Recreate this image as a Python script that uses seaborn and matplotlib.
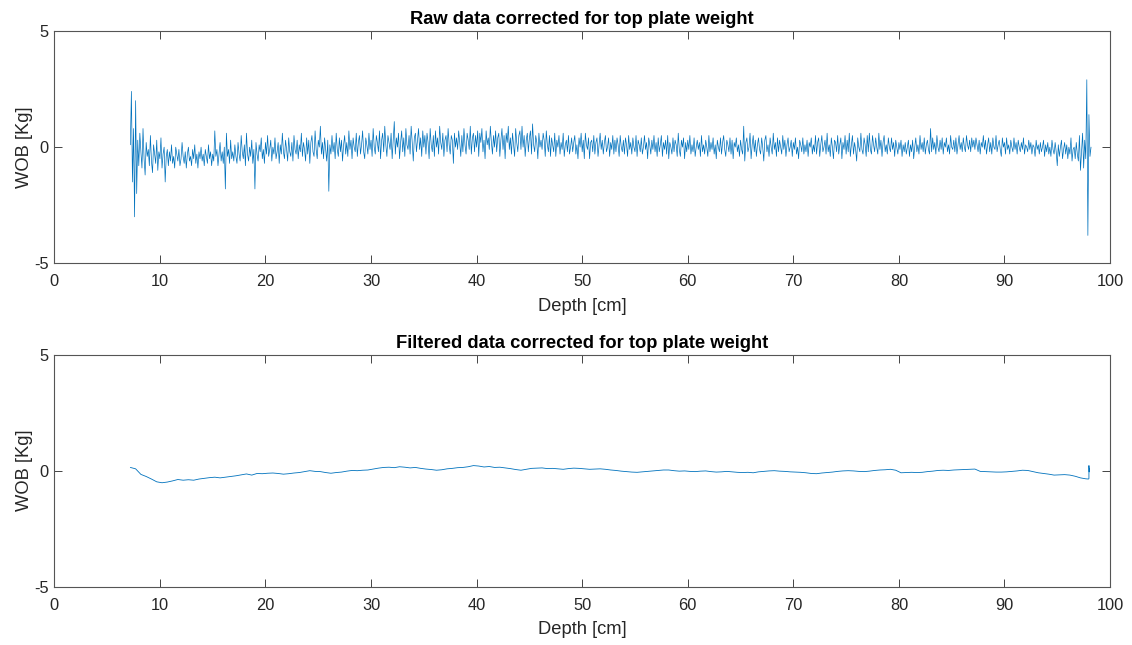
import numpy as np
import matplotlib
matplotlib.use("Agg")
import matplotlib.pyplot as plt
import seaborn as sns

# raw WOB readings [Kg], one every 0.1 cm from 7.2 cm to 98.2 cm
raw_07_17 = [0.1, 2.4, -1.5, 0.8, -3.0, 2.0, -2.0, 0.3, -0.8, 0.6,
             -0.2, -0.9, 0.8, -0.5, -1.2, 0.2, -0.4, -0.1, -0.8, 0.5,
             -0.6, -1.1, 0.1, -0.3, -0.7, 0.3, -1.0, -0.2, -0.5, 0.4,
             -0.9, -0.3, 0.0, -1.5, -0.4, -0.1, -0.8, -0.2, -0.6, 0.1,
             -0.7, -0.4, -0.9, 0.0, -0.3, -0.6, -0.1, -0.8, -0.5, 0.2,
             -0.4, -0.7, -0.2, -0.9, -0.3, 0.0, -0.6, -0.4, -0.8, -0.1,
             -0.5, 0.1, -0.7, -0.3, -0.9, -0.2, -0.5, 0.0, -0.6, -0.3,
             -0.8, -0.1, -0.4, -0.7, 0.1, -0.5, -0.2, -0.8, -0.3, -0.6,
             0.7, -0.4, -0.1, -0.8, -0.3, 0.2, -0.6, -0.2, -0.7, 0.0,
             -1.8, 0.6, -0.4, -0.1, -0.7, 0.3, -0.5, -0.2, -0.6, 0.1]
raw_17_27 = [-0.4, -0.7, 0.2, -0.3, -0.6, 0.5, -0.2, -0.5, 0.1, -0.8,
             0.6, -0.3, -0.6, 0.0, -0.4, 0.3, -0.7, -0.1, -1.8, 0.2,
             -0.3, -0.6, 0.1, -0.2, 0.4, -0.5, -0.1, -0.7, 0.2, -0.3,
             0.5, -0.4, -0.1, 0.3, -0.6, 0.0, -0.3, 0.4, -0.5, -0.2,
             0.2, -0.7, 0.1, -0.3, 0.6, -0.2, -0.5, 0.3, -0.1, -0.6,
             0.4, -0.2, -0.4, 0.2, -0.6, 0.5, -0.1, -0.3, 0.3, -0.5,
             0.1, -0.2, 0.6, -0.4, 0.2, -0.1, -0.6, 0.4, -0.3, 0.3,
             -0.7, 0.2, 0.5, -0.2, -0.4, 0.7, -0.1, -0.5, 0.3, 0.0,
             0.9, -0.3, 0.2, -0.5, 0.4, -0.1, -0.6, 0.3, -1.9, 0.1,
             -0.3, 0.5, -0.2, 0.2, -0.5, 0.6, -0.1, -0.4, 0.4, -0.2]
raw_27_37 = [0.3, -0.6, 0.1, 0.5, -0.3, 0.2, -0.4, 0.7, -0.1, 0.3,
             -0.5, 0.4, 0.0, -0.2, 0.6, -0.4, 0.2, 0.5, -0.3, 0.1,
             0.7, -0.2, -0.5, 0.4, 0.1, -0.3, 0.6, -0.1, 0.3, -0.4,
             0.8, 0.0, -0.3, 0.5, 0.2, -0.2, 0.7, -0.5, 0.3, 0.6,
             -0.2, 0.9, 0.1, -0.4, 0.5, 0.2, -0.1, 0.6, -0.5, 0.3,
             1.1, -0.3, 0.4, 0.0, 0.6, -0.5, 0.2, 0.7, -0.2, 0.4,
             -0.4, 0.8, 0.1, -0.1, 0.5, -0.3, 0.9, 0.2, -0.6, 0.4,
             0.6, -0.2, 0.3, 0.8, -0.1, 0.4, -0.4, 0.7, 0.0, 0.5,
             -0.3, 0.6, 0.2, -0.5, 0.8, 0.1, -0.2, 0.5, -0.4, 0.7,
             0.0, 0.4, -0.3, 0.9, 0.2, -0.1, 0.6, -0.4, 0.3, 0.5]
raw_37_47 = [-0.2, 0.8, 0.1, -0.3, 0.5, 0.3, -0.7, 0.6, 0.0, 0.4,
             -0.1, 0.7, 0.2, -0.4, 0.5, -0.2, 0.8, 0.1, -0.3, 0.6,
             0.3, -0.1, 0.9, -0.3, 0.4, 0.6, -0.2, 0.5, 0.0, 0.7,
             -0.4, 0.6, 0.2, 0.8, -0.2, 0.3, -0.5, 0.7, 0.1, 0.4,
             -0.1, 0.9, 0.2, -0.3, 0.5, 0.0, 0.7, -0.2, 0.4, 0.6,
             -0.4, 0.3, 0.8, -0.1, 0.5, -0.5, 0.6, 0.2, 0.9, -0.1,
             0.4, -0.3, 0.6, 0.1, -0.4, 0.8, 0.2, -0.2, 0.5, 0.7,
             -0.1, 0.9, 0.0, 0.5, -0.4, 0.3, 0.6, -0.2, 0.4, 0.7,
             -0.3, 1.0, 0.1, -0.2, 0.5, 0.2, -0.5, 0.6, 0.0, 0.3,
             -0.1, 0.6, 0.3, -0.4, 0.7, 0.1, -0.2, 0.5, -0.4, 0.4]
raw_47_57 = [0.1, -0.2, 0.6, -0.4, 0.3, 0.0, 0.5, -0.3, 0.2, -0.1,
             0.6, -0.4, 0.1, 0.3, -0.2, 0.5, -0.3, 0.0, 0.4, -0.2,
             0.2, 0.5, -0.3, 0.1, -0.5, 0.4, 0.0, 0.6, -0.2, 0.3,
             -0.5, 0.6, 0.1, -0.1, 0.4, -0.5, 0.2, 0.3, -0.2, 0.5,
             -0.3, 0.2, 0.4, -0.4, 0.1, 0.6, -0.1, 0.3, -0.3, 0.2,
             0.5, -0.2, 0.0, 0.4, -0.4, 0.2, -0.1, 0.5, -0.3, 0.3,
             -0.2, 0.4, 0.1, -0.4, 0.5, 0.0, -0.2, 0.3, -0.3, 0.4,
             0.1, -0.4, 0.5, -0.1, 0.2, -0.3, 0.4, 0.0, -0.2, 0.5,
             -0.4, 0.3, 0.1, -0.2, 0.4, -0.3, 0.0, 0.5, -0.1, 0.2,
             -0.5, 0.4, 0.1, -0.3, 0.3, -0.1, 0.5, -0.2, 0.2, -0.4]
raw_57_67 = [0.4, -0.2, 0.1, 0.5, -0.4, 0.2, -0.1, 0.3, -0.3, 0.5,
             -0.5, 0.2, 0.0, -0.3, 0.4, -0.2, 0.3, 0.1, -0.4, 0.6,
             -0.1, -0.4, 0.3, 0.0, 0.4, -0.5, 0.2, -0.2, 0.3, -0.1,
             0.5, -0.3, 0.1, -0.2, 0.4, -0.4, 0.0, 0.3, -0.1, 0.2,
             -0.4, 0.5, -0.2, 0.1, -0.3, 0.3, 0.0, -0.4, 0.5, -0.2,
             0.2, -0.1, 0.4, -0.3, 0.1, -0.5, 0.3, 0.0, -0.2, 0.4,
             -0.3, 0.2, 0.5, -0.1, -0.4, 0.3, 0.1, -0.2, 0.4, -0.3,
             0.3, -0.5, 0.2, 0.0, 0.4, -0.2, 0.1, -0.4, 0.3, -0.1,
             -0.3, 0.9, -0.6, 0.2, 0.4, -0.2, 0.0, 0.6, -0.5, 0.1,
             0.5, -0.2, 0.3, -0.4, 0.1, 0.4, -0.1, -0.3, 0.4, 0.0]
raw_67_77 = [-0.6, 0.3, 0.5, -0.2, 0.1, -0.4, 0.4, 0.0, -0.3, 0.6,
             -0.1, 0.2, -0.4, 0.4, -0.2, 0.3, 0.0, -0.3, 0.5, -0.1,
             0.3, -0.4, 0.1, 0.4, -0.2, 0.0, 0.3, -0.4, 0.2, -0.1,
             0.4, -0.3, 0.0, -0.5, 0.3, 0.1, -0.2, 0.4, -0.3, 0.1,
             -0.2, 0.3, -0.4, 0.2, 0.0, 0.4, -0.3, 0.1, -0.2, 0.5,
             -0.3, 0.2, 0.4, -0.4, 0.1, 0.5, -0.2, 0.0, 0.3, -0.3,
             0.6, -0.2, 0.1, -0.4, 0.4, 0.0, -0.5, 0.3, 0.2, -0.2,
             0.5, -0.3, 0.1, 0.4, -0.5, 0.2, -0.1, 0.5, -0.3, 0.3,
             -0.2, 0.6, -0.4, 0.1, 0.5, -0.3, 0.2, -0.1, -0.6, 0.4,
             0.0, -0.2, 0.6, -0.1, -0.3, 0.4, 0.1, -0.4, 0.5, -0.2]
raw_77_87 = [0.6, -0.1, -0.3, 0.5, 0.1, -0.2, 0.4, 0.0, -0.3, 0.6,
             -0.1, 0.3, -0.4, 0.2, 0.5, -0.2, 0.1, -0.3, 0.4, 0.0,
             -0.2, 0.4, -0.1, 0.2, -0.4, 0.3, 0.0, -0.3, 0.2, -0.1,
             0.3, -0.4, 0.1, -0.2, 0.2, -0.3, 0.0, 0.3, -0.4, 0.1,
             -0.2, 0.3, -0.5, 0.0, 0.4, -0.2, 0.1, -0.3, 0.5, -0.1,
             0.2, -0.2, 0.4, -0.3, 0.1, 0.3, -0.1, -0.3, 0.8, -0.2,
             0.4, -0.1, 0.2, -0.3, 0.5, 0.0, -0.2, 0.3, -0.1, 0.4,
             -0.3, 0.2, 0.0, 0.4, -0.2, 0.1, -0.3, 0.5, 0.0, -0.1,
             0.3, -0.2, 0.4, -0.3, 0.1, 0.5, -0.1, 0.2, -0.2, 0.4,
             0.0, -0.2, 0.5, 0.1, -0.1, 0.3, -0.2, 0.4, 0.0, 0.3]
raw_87_98 = [-0.1, 0.4, 0.1, -0.2, 0.3, -0.3, 0.2, 0.0, 0.5, -0.1,
             0.3, -0.3, 0.1, 0.4, -0.2, 0.2, -0.3, 0.4, 0.0, -0.1,
             0.5, -0.2, 0.1, 0.3, -0.1, -0.4, 0.4, 0.0, 0.2, -0.3,
             0.4, -0.1, 0.1, -0.3, 0.3, 0.0, -0.2, 0.4, -0.1, 0.2,
             -0.3, 0.3, 0.0, -0.2, 0.2, -0.1, 0.4, -0.3, 0.1, 0.0,
             -0.2, 0.3, -0.1, 0.2, -0.3, 0.1, 0.0, -0.4, 0.3, -0.1,
             0.1, -0.3, 0.2, -0.2, 0.0, 0.3, -0.4, 0.1, -0.2, 0.2,
             -0.3, 0.0, -0.4, 0.3, -0.1, -0.3, 0.2, -0.2, -0.8, 0.1,
             -0.4, 0.0, 0.3, -0.5, -0.1, 0.2, -0.3, 0.1, -0.5, 0.0,
             -0.3, 0.4, -0.6, -0.1, 0.0, -0.5, 0.2, -0.3, -0.6, 0.5,
             -1.0, -0.2, 0.6, -0.9, 0.3, -0.5, 2.9, -3.8, 1.4, -0.4, 0.0]

# filtered WOB [Kg], one value every 0.5 cm from 7.2 cm
filt_wob = [0.14, 0.08, -0.16, -0.25, -0.36, -0.48, -0.52, -0.49, -0.44, -0.38,
            -0.41, -0.39, -0.41, -0.36, -0.33, -0.30, -0.28, -0.31, -0.28, -0.25,
            -0.22, -0.18, -0.14, -0.19, -0.12, -0.13, -0.11, -0.10, -0.12, -0.15,
            -0.13, -0.10, -0.08, -0.04, 0.00, -0.03, -0.04, -0.08, -0.11, -0.08,
            -0.06, -0.02, 0.01, 0.00, 0.02, 0.03, 0.07, 0.11, 0.14, 0.15,
            0.13, 0.17, 0.15, 0.12, 0.14, 0.10, 0.07, 0.05, 0.02, 0.04,
            0.08, 0.10, 0.13, 0.14, 0.17, 0.22, 0.20, 0.16, 0.18, 0.14,
            0.15, 0.12, 0.09, 0.05, 0.02, 0.06, 0.10, 0.11, 0.12, 0.09,
            0.10, 0.08, 0.06, 0.09, 0.11, 0.10, 0.08, 0.06, 0.07, 0.08,
            0.06, 0.03, 0.01, -0.02, -0.04, -0.06, -0.07, -0.05, -0.03, -0.01,
            0.01, 0.03, 0.03, 0.00, -0.02, -0.01, -0.03, -0.04, -0.02, -0.01,
            -0.04, -0.06, -0.05, -0.03, -0.05, -0.07, -0.08, -0.07, -0.09, -0.05,
            -0.03, -0.01, 0.00, -0.02, -0.03, -0.05, -0.06, -0.07, -0.09, -0.12,
            -0.13, -0.10, -0.08, -0.06, -0.03, -0.01, 0.00, -0.01, -0.03, -0.04,
            -0.02, 0.01, 0.03, 0.04, 0.06, 0.02, -0.09, -0.08, -0.07, -0.08,
            -0.07, -0.04, -0.02, 0.01, 0.02, 0.01, 0.03, 0.04, 0.05, 0.06,
            0.07, -0.03, -0.04, -0.05, -0.06, -0.06, -0.05, -0.03, -0.01, 0.02,
            0.01, -0.04, -0.09, -0.12, -0.15, -0.19, -0.18, -0.17, -0.19, -0.24,
            -0.31, -0.35]
# hook at the very end of the filtered record
filt_tail_depth = [97.95, 98.0, 98.0, 98.03, 98.05]
filt_tail_wob = [-0.36, -0.34, 0.22, -0.05, 0.1]

wob_raw = raw_07_17 + raw_17_27 + raw_27_37 + raw_37_47 + raw_47_57 + \
    raw_57_67 + raw_67_77 + raw_77_87 + raw_87_98
depth_raw = np.linspace(7.2, 98.2, len(wob_raw))
depth_filt = list(np.linspace(7.2, 7.2 + 0.5 * (len(filt_wob) - 1), len(filt_wob))) + filt_tail_depth
wob_filt = filt_wob + filt_tail_wob

sns.set_style("white")
plt.rcParams['font.family'] = ['Liberation Sans', 'DejaVu Sans']
plt.rcParams['axes.unicode_minus'] = False

azul = '#0072BD'
gris = '#262626'

fig = plt.figure(figsize=(11.32, 6.45), dpi=100)
ax1 = fig.add_axes([0.048, 0.5918, 0.9326, 0.3602])
ax2 = fig.add_axes([0.048, 0.0904, 0.9326, 0.3597])

sns.lineplot(x=depth_raw, y=wob_raw, ax=ax1, color=azul, linewidth=0.5,
             estimator=None, sort=False)
sns.lineplot(x=depth_filt, y=wob_filt, ax=ax2, color=azul, linewidth=0.6,
             estimator=None, sort=False)

titulos = ['Raw data corrected for top plate weight',
           'Filtered data corrected for top plate weight']
for ax, titulo in zip([ax1, ax2], titulos):
    ax.set_xlim(0, 100)
    ax.set_ylim(-5, 5)
    ax.set_xticks(range(0, 101, 10))
    ax.set_yticks([-5, 0, 5])
    ax.tick_params(direction='in', length=6, width=0.6, colors=gris,
                   labelsize=11.8, top=True, right=True, bottom=True, left=True)
    ax.tick_params(axis='x', pad=8)
    ax.tick_params(axis='y', pad=4)
    for s in ax.spines.values():
        s.set_visible(True)
        s.set_color('#555555')
        s.set_linewidth(0.8)
    ax.set_xlabel('Depth [cm]', fontsize=13.2, color=gris, labelpad=6)
    ax.set_ylabel('WOB [Kg]', fontsize=13.2, color=gris, labelpad=1)
    ax.set_title(titulo, fontsize=13.2, fontweight='bold', color='black', pad=5)

fig.savefig('out.png', dpi=100)
